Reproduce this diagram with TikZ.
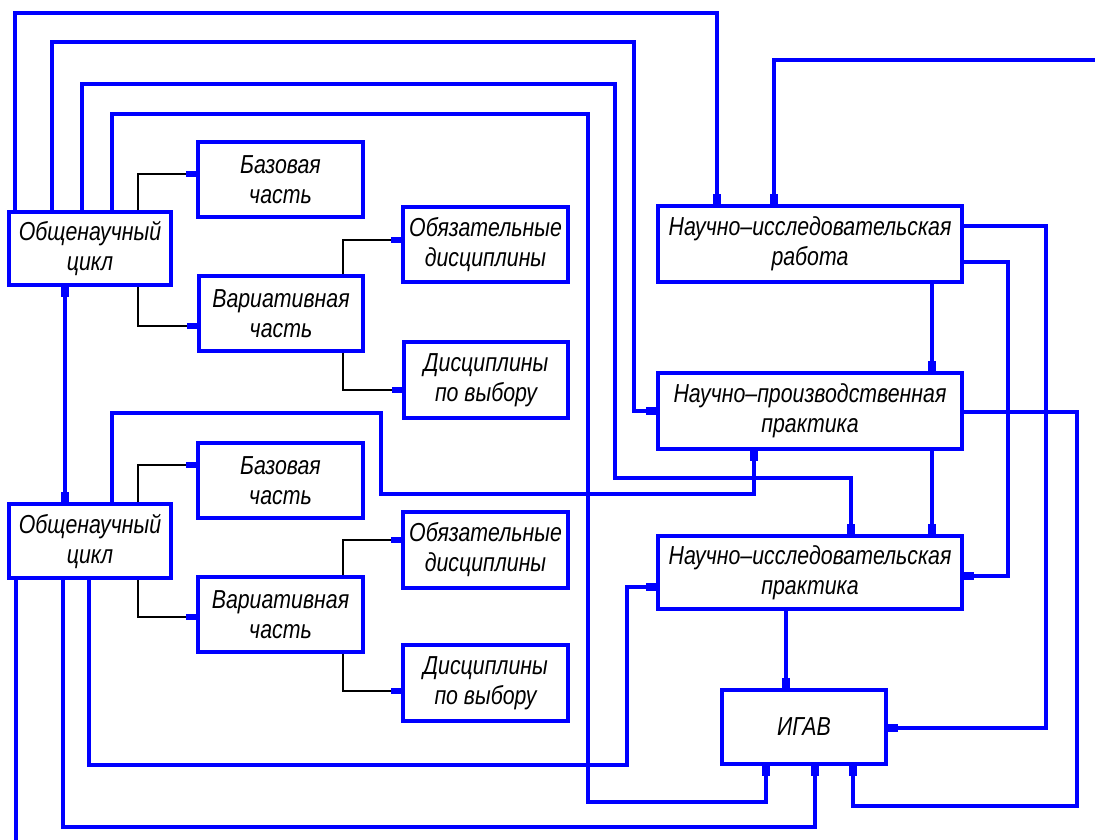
\documentclass[tikz,border=0pt]{standalone}
\usepackage{fontspec}
\setmainfont{Liberation Sans}[FakeStretch=0.82]
\usetikzlibrary{arrows.meta}
\newcommand\gosttext{\fontsize{26}{30}\selectfont\itshape}
\begin{document}
\begin{tikzpicture}[x=1pt,y=-1pt,
  box/.style={draw=blue, line width=3.5pt, inner sep=0pt, align=center, font=\gosttext},
  bl/.style={draw=blue, line width=4pt},
  bk/.style={draw=black, line width=1.3pt},
  btip/.style={-{Rectangle[length=10pt,width=8pt]}},
  ktip/.style={-{Rectangle[color=blue,fill=blue,length=10pt,width=6pt]}},
  dtip/.style={{Rectangle[length=10pt,width=8pt]}-{Rectangle[length=10pt,width=8pt]}}]
\useasboundingbox (0,0) rectangle (1095,840);
% boxes
\node[box, minimum width=162pt, minimum height=73pt] (oc1) at (90,248.5) {Общенаучный\\цикл};
\node[box, minimum width=165pt, minimum height=75pt] (baz1) at (280.5,179.5) {Базовая\\часть};
\node[box, minimum width=164pt, minimum height=75pt] (var1) at (281,313.5) {Вариативная\\часть};
\node[box, minimum width=165pt, minimum height=75pt] (obz1) at (485.5,244.5) {Обязательные\\дисциплины};
\node[box, minimum width=164pt, minimum height=76pt] (dis1) at (486,380) {Дисциплины\\по выбору};
\node[box, minimum width=162pt, minimum height=74pt] (oc2) at (90,541) {Общенаучный\\цикл};
\node[box, minimum width=165pt, minimum height=75pt] (baz2) at (280.5,480.5) {Базовая\\часть};
\node[box, minimum width=165pt, minimum height=75pt] (var2) at (280.5,614.5) {Вариативная\\часть};
\node[box, minimum width=165pt, minimum height=76pt] (obz2) at (485.5,550) {Обязательные\\дисциплины};
\node[box, minimum width=165pt, minimum height=76pt] (dis2) at (485.5,683) {Дисциплины\\по выбору};
\node[box, minimum width=304pt, minimum height=76pt] (nir) at (810,244) {Научно–исследовательская\\работа};
\node[box, minimum width=304pt, minimum height=76pt] (npp) at (810,411) {Научно–производственная\\практика};
\node[box, minimum width=304pt, minimum height=73pt] (nip) at (810,572.5) {Научно–исследовательская\\практика};
\node[box, minimum width=164pt, minimum height=74pt] (igav) at (804,727) {ИГАВ};
\coordinate (rin) at (1095,60);
\coordinate (bout) at (16,840);
% black connectors
\draw[bk,ktip] (oc1.north -| 138,0) |- (baz1.west |- 0,174);
\draw[bk,ktip] (oc1.south -| 138,0) |- (var1.west |- 0,326);
\draw[bk,ktip] (var1.north -| 343,0) |- (obz1.west |- 0,240);
\draw[bk,ktip] (var1.south -| 343,0) |- (dis1.west |- 0,390);
\draw[bk,ktip] (oc2.north -| 138,0) |- (baz2.west |- 0,465);
\draw[bk,ktip] (oc2.south -| 138,0) |- (var2.west |- 0,617);
\draw[bk,ktip] (var2.north -| 343,0) |- (obz2.west |- 0,540);
\draw[bk,ktip] (var2.south -| 343,0) |- (dis2.west |- 0,691);
% blue connectors
\draw[bl,btip] (oc1.north -| 15,0) |- (717,13) -- (nir.north -| 717,0);
\draw[bl,btip] (oc1.north -| 52,0) |- (634,42) |- (npp.west |- 0,411);
\draw[bl,btip] (oc1.north -| 82,0) |- (615,84) |- (851,478) -- (nip.north -| 851,0);
\draw[bl,btip] (oc1.north -| 112,0) |- (588,114) |- (766,802) -- (igav.south -| 766,0);
\draw[bl,btip] (rin) -| (nir.north -| 774,0);
\draw[bl,btip] (nir.south -| 932,0) -- (npp.north -| 932,0);
\draw[bl,btip] (npp.south -| 932,0) -- (nip.north -| 932,0);
\draw[bl,btip] (nip.south -| 786,0) -- (igav.north -| 786,0);
\draw[bl,btip] (nir.east |- 0,226) -| (1046,728) -- (igav.east |- 0,728);
\draw[bl,btip] (nir.east |- 0,262) -| (1008,576) -- (nip.east |- 0,576);
\draw[bl,btip] (npp.east |- 0,412) -| (1077,806) -| (igav.south -| 853,0);
\draw[bl,btip] (oc2.north -| 112,0) |- (381,413) |- (754,494) -- (npp.south -| 754,0);
\draw[bl,btip] (oc2.south -| 89,0) |- (627,765) |- (nip.west |- 0,587);
\draw[bl,btip] (oc2.south -| 63,0) |- (815,827) -- (igav.south -| 815,0);
\draw[bl] (oc2.south -| 16,0) -- (bout);
\draw[bl,dtip] (oc1.south -| 65,0) -- (oc2.north -| 65,0);
\end{tikzpicture}
\end{document}
